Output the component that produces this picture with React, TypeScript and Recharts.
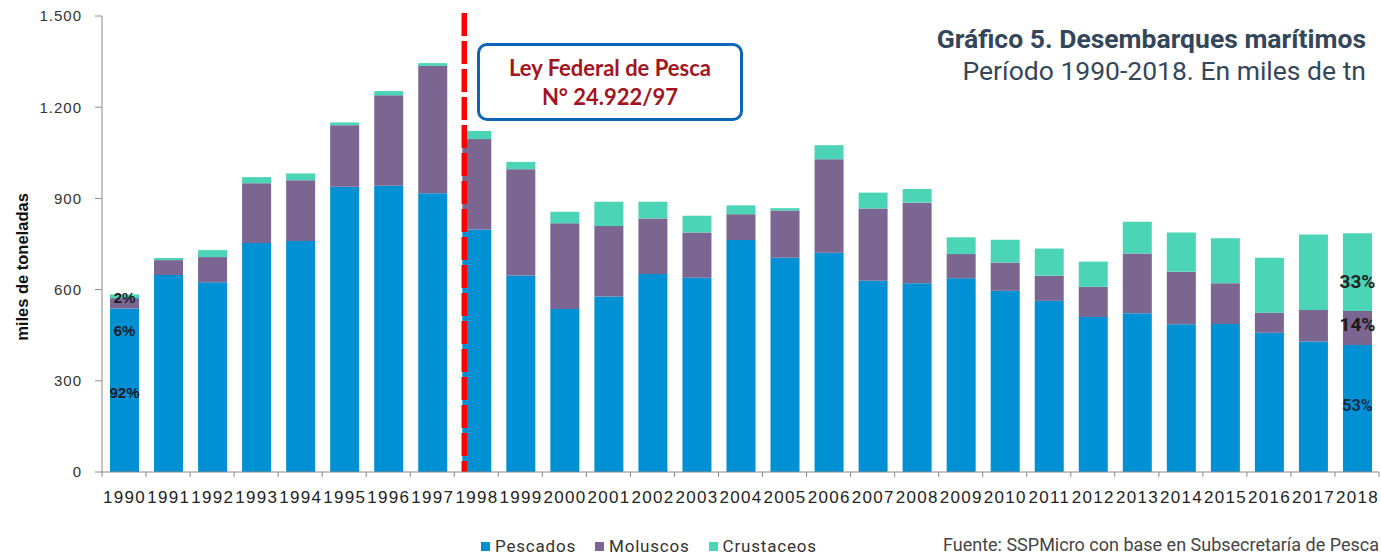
import { Bar, BarChart, LabelList, ReferenceLine, XAxis, YAxis } from "recharts";

const years = [
  "1990", "1991", "1992", "1993", "1994", "1995", "1996", "1997", "1998", "1999",
  "2000", "2001", "2002", "2003", "2004", "2005", "2006", "2007", "2008", "2009",
  "2010", "2011", "2012", "2013", "2014", "2015", "2016", "2017", "2018",
];
const pescados = [
  538, 648, 624, 753, 760, 938, 942, 917, 798, 646,
  536, 577, 651, 639, 763, 705, 721, 629, 621, 637,
  596, 563, 510, 522, 486, 487, 458, 429, 418,
];
const moluscos = [
  34, 49, 83, 197, 200, 203, 297, 419, 297, 350,
  282, 232, 183, 149, 85, 155, 308, 238, 265, 80,
  93, 83, 99, 197, 173, 134, 66, 104, 112,
];
const crustaceos = [
  12, 7, 23, 20, 22, 9, 14, 9, 27, 24,
  38, 80, 55, 55, 29, 8, 46, 52, 45, 55,
  75, 89, 83, 104, 129, 148, 181, 248, 255,
];
const yTicks = [0, 300, 600, 900, 1200, 1500];
// share labels for first (1990) and last (2018) year: pescados, moluscos, crustaceos
const pctFirst = ["92%", "6%", "2%"];
const pctLast = ["53%", "14%", "33%"];

const data = years.map((year, i) => ({
  year,
  pescados: pescados[i],
  moluscos: moluscos[i],
  crustaceos: crustaceos[i],
}));

const W = 1381;
const H = 555;
const AXIS_W = 102;
const RIGHT = 2;
const BAND = (W - AXIS_W - RIGHT) / years.length;

const BLUE = "#0090d4";
const PURPLE = "#7a6690";
const TEAL = "#4cd4b6";

type LabelStyle = { dy: number; size: number; fill: string; family: string };

function pctLabel(series: number, first: LabelStyle, last: LabelStyle) {
  return (props: any) => {
    const { x, y, width, height, index } = props;
    const isFirst = index === 0;
    const isLast = index === years.length - 1;
    if (!isFirst && !isLast) return null;
    const st = isFirst ? first : last;
    const text = isFirst ? pctFirst[series] : pctLast[series];
    return (
      <text
        x={Number(x) + Number(width) / 2}
        y={Number(y) + Number(height) / 2 + st.dy}
        textAnchor="middle"
        dominantBaseline="central"
        fontFamily={st.family}
        fontWeight="bold"
        fontSize={st.size}
        fill={st.fill}
      >
        {text}
      </text>
    );
  };
}

const XTick = (props: any) => {
  const { x, y, payload, index } = props;
  const left = x - BAND / 2;
  return (
    <g>
      <line x1={left} y1={y} x2={left} y2={y + 5} stroke="#8a8a8a" />
      {index === years.length - 1 && (
        <line x1={x + BAND / 2} y1={y} x2={x + BAND / 2} y2={y + 5} stroke="#8a8a8a" />
      )}
      <text
        x={x + 0.6}
        y={y + 31}
        textAnchor="middle"
        fontFamily="'Liberation Sans', Arial, sans-serif"
        fontSize={17}
        letterSpacing={1.3}
        fill="#222"
      >
        {payload.value}
      </text>
    </g>
  );
};

const fmt = (v: number) => v.toLocaleString("es-AR").replace(",", ".");

const legendItems = [
  { name: "Pescados", color: BLUE },
  { name: "Moluscos", color: PURPLE },
  { name: "Crustaceos", color: TEAL },
];

export default function App() {
  return (
    <div
      style={{
        position: "absolute",
        left: 0,
        top: 0,
        width: W,
        height: H,
        background: "#fff",
        overflow: "hidden",
        fontFamily: "Roboto, sans-serif",
      }}
    >
      <BarChart
        width={W}
        height={H}
        data={data}
        margin={{ top: 16, right: RIGHT, left: 0, bottom: 53 }}
        barSize={29}
      >
        <XAxis
          dataKey="year"
          height={30}
          interval={0}
          tickLine={false}
          tickSize={0}
          tickMargin={0}
          tick={<XTick />}
          axisLine={{ stroke: "#8a8a8a" }}
        />
        <YAxis
          width={AXIS_W}
          domain={[0, 1500]}
          ticks={yTicks}
          tickFormatter={fmt}
          tickSize={7}
          tickMargin={13}
          axisLine={{ stroke: "#8a8a8a" }}
          tickLine={{ stroke: "#8a8a8a" }}
          tick={{
            fontFamily: "'Liberation Sans', Arial, sans-serif",
            fontSize: 15,
            letterSpacing: 1,
            fill: "#333",
          }}
        />
        <Bar dataKey="pescados" stackId="a" fill={BLUE} isAnimationActive={false}>
          <LabelList
            dataKey="pescados"
            content={pctLabel(
              0,
              { dy: 2, size: 15, fill: "#1a1a2a", family: "'Liberation Sans', Arial, sans-serif" },
              { dy: -3, size: 16, fill: "#0b2c4e", family: "Roboto, sans-serif" }
            )}
          />
        </Bar>
        <Bar dataKey="moluscos" stackId="a" fill={PURPLE} isAnimationActive={false}>
          <LabelList
            dataKey="moluscos"
            content={pctLabel(
              1,
              { dy: 27, size: 15, fill: "#1a1a2a", family: "'Liberation Sans', Arial, sans-serif" },
              { dy: -3, size: 19, fill: "#1a1a1a", family: "Roboto, sans-serif" }
            )}
          />
        </Bar>
        <Bar dataKey="crustaceos" stackId="a" fill={TEAL} isAnimationActive={false}>
          <LabelList
            dataKey="crustaceos"
            content={pctLabel(
              2,
              { dy: 1, size: 15, fill: "#1a1a2a", family: "'Liberation Sans', Arial, sans-serif" },
              { dy: 9, size: 19, fill: "#222", family: "Roboto, sans-serif" }
            )}
          />
        </Bar>
        <ReferenceLine
          x="1998"
          position="start"
          shape={(p: any) => (
            <line
              x1={p.x1 + 10}
              x2={p.x2 + 10}
              y1={Math.min(p.y1, p.y2) - 3}
              y2={Math.max(p.y1, p.y2)}
              stroke="#ff0000"
              strokeWidth={5.5}
              strokeDasharray="23 5"
            />
          )}
        />
      </BarChart>

      {/* y axis title */}
      <div
        style={{
          position: "absolute",
          left: 22,
          top: 267,
          transform: "translate(-50%, -50%) rotate(-90deg)",
          whiteSpace: "nowrap",
          fontFamily: "'Liberation Sans', Arial, sans-serif",
          fontWeight: "bold",
          fontSize: 16.5,
          color: "#111",
        }}
      >
        miles de toneladas
      </div>

      {/* annotation */}
      <div
        style={{
          position: "absolute",
          left: 477,
          top: 43,
          width: 260,
          height: 72,
          border: "3px solid #0b65b8",
          borderRadius: 10,
          boxSizing: "content-box",
          textAlign: "center",
          fontFamily: "Lato, 'Open Sans', sans-serif",
          fontWeight: "bold",
          fontSize: 22,
          lineHeight: "29px",
          color: "#a3141f",
        }}
      >
        <div style={{ marginTop: 7 }}>Ley Federal de Pesca</div>
        <div>N° 24.922/97</div>
      </div>

      {/* title */}
      <div
        style={{
          position: "absolute",
          right: W - 1366,
          top: 23,
          textAlign: "right",
          color: "#34465a",
          fontSize: 26.5,
          lineHeight: "32px",
          whiteSpace: "nowrap",
        }}
      >
        <div style={{ fontWeight: "bold" }}>Gráfico 5. Desembarques marítimos</div>
        <div>Período 1990-2018. En miles de tn</div>
      </div>

      {/* legend */}
      <div
        style={{
          position: "absolute",
          left: 481,
          top: 536,
          display: "flex",
          alignItems: "center",
          fontSize: 17,
          color: "#333",
          whiteSpace: "nowrap",
          letterSpacing: 0.8,
        }}
      >
        {legendItems.map((it) => (
          <div key={it.name} style={{ display: "flex", alignItems: "center", marginRight: 19 }}>
            <span style={{ width: 9, height: 9, background: it.color, marginRight: 5, display: "inline-block" }} />
            <span>{it.name}</span>
          </div>
        ))}
      </div>

      {/* source */}
      <div
        style={{
          position: "absolute",
          left: 943,
          top: 534,
          fontSize: 18,
          color: "#444",
          whiteSpace: "nowrap",
        }}
      >
        Fuente: SSPMicro con base en Subsecretaría de Pesca
      </div>
    </div>
  );
}
